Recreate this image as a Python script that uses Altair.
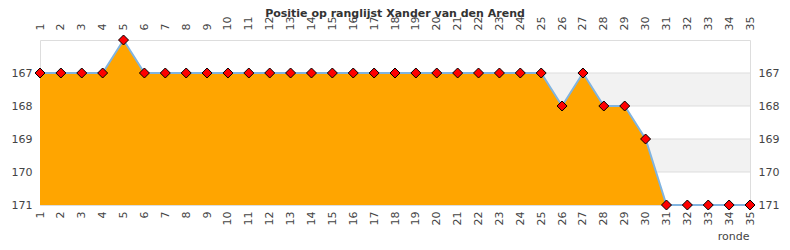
import altair as alt
import pandas as pd

rounds = list(range(1, 36))
positions = [167, 167, 167, 167, 166] + [167] * 20 + [168, 167, 168, 168, 169, 171, 171, 171, 171, 171]
band_start = [167, 169]
band_end = [168, 170]
grid_values = [167, 168, 169, 170, 171]
y_ticks = [167, 168, 169, 170, 171]

df = pd.DataFrame({"ronde": rounds, "positie": positions})
bands = pd.DataFrame({"start": band_start, "end": band_end})
grid = pd.DataFrame({"v": grid_values})

xscale = alt.Scale(domain=[1, 35], nice=False, zero=False)
yscale = alt.Scale(domain=[166, 171], reverse=True, nice=False, zero=False)

lab = dict(labelFont="DejaVu Sans", labelFontSize=11, labelColor="#444444",
           ticks=False, domain=False, grid=False)

band_layer = alt.Chart(bands).mark_rect(color="#f2f2f2").encode(
    x=alt.datum(1, scale=xscale, axis=None),
    x2=alt.datum(35),
    y=alt.Y("start:Q", scale=yscale, axis=None),
    y2="end:Q",
)

grid_layer = alt.Chart(grid).mark_rule(color="#dddddd", strokeWidth=1).encode(
    y=alt.Y("v:Q", scale=yscale, axis=None),
)

area = alt.Chart(df).mark_area(color="#FFA500", opacity=1).encode(
    x=alt.X("ronde:Q", scale=xscale,
            axis=alt.Axis(orient="bottom", values=rounds, labelAngle=-90, labelPadding=6,
                          title="ronde", titleAnchor="end", titleFont="DejaVu Sans",
                          titleFontSize=11, titleFontWeight="normal", titleColor="#444444",
                          titlePadding=6, titleX=709, **lab)),
    y=alt.Y("positie:Q", scale=yscale,
            axis=alt.Axis(orient="left", values=y_ticks, labelPadding=8, title=None, **lab)),
    y2=alt.datum(171),
)

line = alt.Chart(df).mark_line(color="#80b4e0", strokeWidth=2).encode(
    x=alt.X("ronde:Q", scale=xscale, axis=None),
    y=alt.Y("positie:Q", scale=yscale, axis=None),
)

points = alt.Chart(df).mark_point(shape="diamond", filled=True, fill="#ff0000",
                                  stroke="#000000", strokeWidth=1, size=100, opacity=1).encode(
    x=alt.X("ronde:Q", scale=xscale,
            axis=alt.Axis(orient="top", values=rounds, labelAngle=-90, labelPadding=10,
                          title=None, **lab)),
    y=alt.Y("positie:Q", scale=yscale,
            axis=alt.Axis(orient="right", values=y_ticks, labelPadding=8, title=None, **lab)),
)

chart = alt.layer(band_layer, grid_layer, area, line, points).resolve_axis(
    x="independent", y="independent"
).properties(
    width=710,
    height=165,
    title=alt.TitleParams("Positie op ranglijst Xander van den Arend", font="DejaVu Sans",
                          fontSize=11, fontWeight="bold", color="#333333", offset=-3),
    autosize=alt.AutoSizeParams(type="none"),
    padding={"left": 40, "top": 40, "right": 40, "bottom": 45},
).configure_view(stroke="#cccccc", strokeWidth=1).configure(background="white")

chart.save("out.html", embed_options={"renderer": "svg", "actions": False})
